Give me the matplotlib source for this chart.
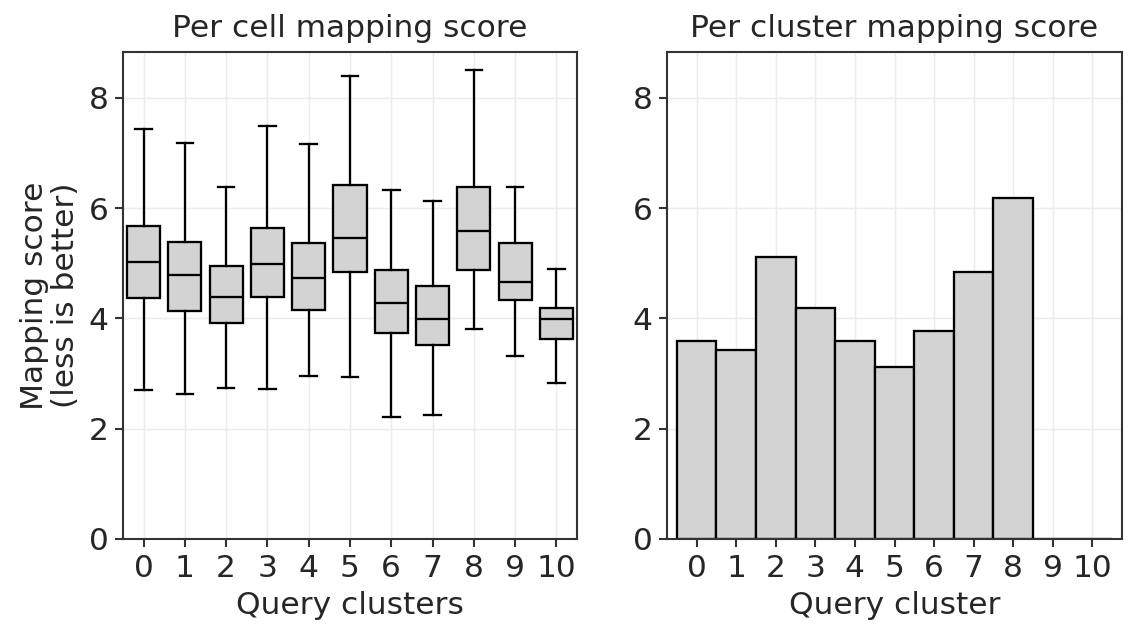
import matplotlib
matplotlib.use("Agg")
import matplotlib.pyplot as plt

clusters = [0, 1, 2, 3, 4, 5, 6, 7, 8, 9, 10]
whislo = [2.71, 2.63, 2.74, 2.72, 2.96, 2.94, 2.22, 2.25, 3.81, 3.31, 2.83]
q1 = [4.37, 4.14, 3.92, 4.39, 4.16, 4.85, 3.73, 3.52, 4.88, 4.34, 3.63]
med = [5.03, 4.79, 4.39, 4.99, 4.74, 5.46, 4.28, 3.98, 5.59, 4.66, 3.98]
q3 = [5.68, 5.39, 4.95, 5.64, 5.37, 6.42, 4.88, 4.59, 6.39, 5.37, 4.19]
whishi = [7.43, 7.18, 6.39, 7.49, 7.16, 8.40, 6.33, 6.13, 8.51, 6.39, 4.90]
cluster_scores = [3.59, 3.43, 5.11, 4.19, 3.59, 3.12, 3.77, 4.85, 6.18, 0.0, 0.0]

text_color = "#262626"
fs = 15
plt.rcParams.update({
    "font.family": ["DejaVu Sans"],
    "font.size": fs,
    "text.color": text_color,
    "axes.labelcolor": text_color,
    "xtick.color": text_color,
    "ytick.color": text_color,
    "axes.edgecolor": "#333333",
    "axes.linewidth": 1.0,
})

fig = plt.figure(figsize=(1137 / 150, 637 / 150), dpi=150)
W, H = 1137, 637
ax1 = fig.add_axes([123 / W, (H - 539) / H, 454 / W, 487 / H])
ax2 = fig.add_axes([667 / W, (H - 539) / H, 455 / W, 487 / H])

stats = []
for i in range(len(clusters)):
    stats.append(dict(med=med[i], q1=q1[i], q3=q3[i], whislo=whislo[i],
                      whishi=whishi[i], fliers=[], label=str(clusters[i])))
lw = 1.1
ax1.bxp(stats, positions=clusters, widths=0.8, patch_artist=True, showfliers=False,
        boxprops=dict(facecolor="lightgray", edgecolor="black", linewidth=lw),
        medianprops=dict(color="black", linewidth=lw),
        whiskerprops=dict(color="black", linewidth=lw),
        capprops=dict(color="black", linewidth=lw))
ax1.set_xlim(-0.5, 10.5)

ax2.bar(clusters, cluster_scores, width=1.0, color="lightgray", edgecolor="black", linewidth=lw)
ax2.set_xlim(-0.75, 10.75)

for ax in (ax1, ax2):
    ax.set_ylim(0, 8.83)
    ax.set_yticks([0, 2, 4, 6, 8])
    ax.set_xticks(clusters)
    ax.set_xticklabels([str(c) for c in clusters])
    ax.grid(True, color="#ececec", linewidth=0.7)
    ax.set_axisbelow(True)
    ax.tick_params(axis="both", labelsize=fs, length=4, width=1.0, color="#333333", pad=3)

ax1.set_title("Per cell mapping score", fontsize=fs, pad=7)
ax2.set_title("Per cluster mapping score", fontsize=fs, pad=7)
ax1.set_xlabel("Query clusters", fontsize=fs, labelpad=4)
ax2.set_xlabel("Query cluster", fontsize=fs, labelpad=4)
ax1.set_ylabel("Mapping score\n(less is better)", fontsize=fs, linespacing=1.1, labelpad=4)

fig.savefig("out.png", dpi=150)
